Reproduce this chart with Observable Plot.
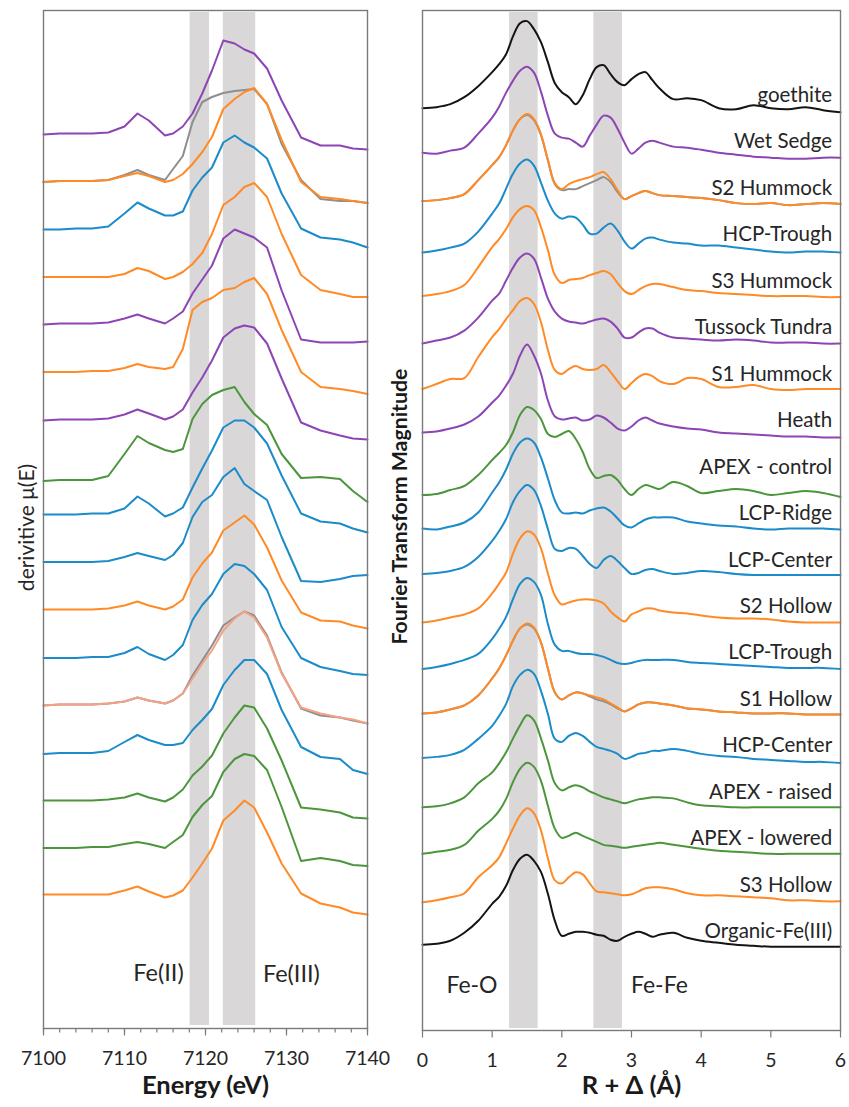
<!DOCTYPE html>
<html>
<head>
<meta charset="utf-8">
<script src="https://cdn.jsdelivr.net/npm/d3@7"></script>
<script src="https://cdn.jsdelivr.net/npm/@observablehq/plot@0.6"></script>
<style>
  body { margin: 0; background: #fff; }
  #wrap { display: flex; width: 849px; height: 1107px; background: #fff; }
  #wrap svg { overflow: visible; display: block; }
  #wrap svg.left-panel { position: relative; z-index: 2; }
</style>
</head>
<body>
<div id="wrap"></div>
<script>
// ---------- Left panel: XANES first derivative (a.u.) ----------
const energyEV = [7100, 7102, 7104, 7106, 7108, 7110, 7111.6, 7113, 7115, 7116, 7117.2, 7118.4, 7119.6, 7120.8, 7122.2, 7123.6, 7124.8, 7126, 7127.6, 7129.4, 7131.8, 7134.2, 7136.6, 7138.2, 7140];

const xanesWetSedge      = [0, 1, 1, 1, 2, 8, 21, 14, -1, 1, 8, 21, 41, 64, 94, 91, 85, 81, 66, 34, -3, -11, -11, -14, -15];
const xanesS2Hummock     = [0, 1, 1, 1, 2, 6, 9, 6, 0, 2, 8, 18, 30, 45, 73, 83, 90, 94, 78, 42, 0, -15, -17, -19, -21];
const xanesS2HummockFit  = [0, 1, 1, 1, 2, 7, 12, 7, 2, 13, 26, 60, 80, 85, 89, 91, 92, 93, 78, 38, 2, -17, -19, -19, -21];
const xanesHCPTrough     = [0, 0, 1, 1, 3, 16, 27, 21, 14, 14, 18, 39, 52, 62, 87, 94, 87, 82, 71, 36, 1, -8, -10, -13, -18];
const xanesS3Hummock     = [0, 0, 0, 0, 0, 3, 9, 6, -2, 0, 5, 13, 24, 43, 72, 80, 90, 94, 80, 43, 2, -13, -17, -20, -20];
const xanesTussock       = [0, 1, 1, 1, 2, 6, 10, 6, 1, 6, 13, 31, 45, 59, 86, 95, 91, 87, 77, 34, -15, -18, -18, -18, -17];
const xanesS1Hummock     = [0, 0, 0, 1, 1, 4, 8, 5, 3, 5, 23, 62, 70, 74, 82, 84, 90, 94, 78, 42, 0, -15, -17, -19, -22];
const xanesHeath         = [-1, 0, 0, 0, 1, 5, 10, 6, 0, 3, 10, 27, 42, 59, 82, 91, 94, 92, 76, 41, -3, -11, -16, -19, -20];
const xanesApexControl   = [-14, -13, -13, -13, -9, 13, 31, 24, 17, 15, 18, 48, 63, 72, 77, 80, 65, 53, 42, 13, -11, -10, -12, -24, -35];
const xanesLCPRidge      = [0, 0, 0, 1, 1, 6, 18, 11, -2, 1, 7, 27, 46, 64, 87, 94, 94, 87, 71, 39, 1, -7, -9, -14, -18];
const xanesLCPCenter     = [0, 0, 0, 0, 1, 5, 9, 6, 2, 7, 19, 45, 60, 67, 85, 94, 78, 71, 62, 25, -19, -20, -17, -14, -13];
const xanesS2Hollow      = [0, 0, 0, 0, 1, 4, 8, 4, 0, 3, 10, 32, 46, 57, 79, 87, 94, 85, 62, 29, -3, -11, -12, -16, -19];
const xanesLCPTrough     = [-1, -1, -1, 0, 0, 4, 10, 3, -3, 2, 12, 37, 52, 63, 83, 93, 91, 83, 67, 30, -1, -10, -14, -17, -18];
const xanesS1Hollow      = [-1, 0, 0, 0, 1, 3, 7, 4, 1, 4, 11, 26, 41, 54, 74, 86, 93, 87, 67, 31, -3, -9, -13, -15, -19];
const xanesS1HollowFit   = [-1, 0, 0, 0, 1, 3, 7, 4, 1, 4, 11, 29, 44, 59, 79, 87, 93, 89, 69, 32, -4, -11, -13, -16, -19];
const xanesHCPCenter     = [-2, -1, -1, -1, 1, 10, 17, 12, 7, 7, 9, 22, 32, 43, 67, 82, 92, 92, 78, 42, 5, -5, -7, -18, -22];
const xanesApexRaised    = [-1, -1, -1, -1, 0, 2, 6, 2, -2, 2, 10, 24, 33, 44, 66, 82, 94, 92, 71, 39, -8, -10, -13, -18, -19];
const xanesApexLowered   = [-1, -1, -1, 0, 0, 3, 5, 3, -1, 5, 12, 30, 42, 51, 75, 88, 93, 91, 77, 40, -14, -11, -14, -18, -19];
const xanesS3Hollow      = [0, 0, 0, 0, 0, 4, 8, 3, -3, -1, 4, 17, 31, 46, 74, 84, 94, 87, 62, 31, 1, -9, -13, -18, -20];

const xanesBands = [{lo: 7118.1, hi: 7120.5}, {lo: 7122.2, hi: 7126.2}];
const energyTicks = [7100, 7110, 7120, 7130, 7140];
const energyMinorStep = 2;
const xanesNotes = [{label: "Fe(II)", E: 7114.2, y: 55}, {label: "Fe(III)", E: 7130.6, y: 54}];

// ---------- Right panel: Fourier transform magnitude ----------
const rAngstrom = [0, 0.2, 0.4, 0.6, 0.8, 1.0, 1.1, 1.2, 1.3, 1.4, 1.5, 1.6, 1.7, 1.8, 1.9, 2.0, 2.1, 2.2, 2.3, 2.4, 2.5, 2.6, 2.7, 2.8, 2.9, 3.0, 3.1, 3.2, 3.3, 3.4, 3.6, 3.8, 4.0, 4.25, 4.5, 4.75, 5.0, 5.25, 5.5, 5.75, 6.0];

const ftGoethite     = [0, 1, 4, 11, 22, 36, 44, 54, 72, 85, 87, 79, 66, 46, 25, 16, 11, 4, 13, 29, 41, 43, 34, 26, 23, 29, 34, 36, 28, 20, 9, 10, 8, 0, -1, 3, 0, -1, 1, -2, -4];
const ftWetSedge     = [2, 1, 4, 7, 21, 37, 48, 62, 74, 84, 88, 82, 63, 39, 21, 17, 16, 12, 8, 19, 30, 39, 37, 26, 12, 1, 6, 12, 14, 12, 8, 7, 5, 2, 0, -2, -3, -4, -4, -3, -3];
const ftS2Hummock    = [0, 1, 3, 7, 21, 36, 44, 56, 71, 82, 87, 82, 67, 41, 18, 12, 17, 20, 22, 24, 27, 29, 22, 11, 2, 5, 8, 10, 8, 6, 5, 4, 3, 1, -2, -3, -2, -4, -3, -2, -3];
const ftS2HummockFit = [0, 1, 3, 7, 21, 36, 44, 56, 71, 82, 86, 81, 66, 41, 17, 11, 12, 12, 15, 18, 21, 24, 19, 9, 2, 5, 8, 10, 8, 6, 5, 4, 3, 1, -2, -3, -2, -4, -3, -2, -3];
const ftHCPTrough    = [-5, -3, 0, 4, 16, 34, 44, 59, 74, 84, 88, 82, 65, 47, 34, 29, 31, 30, 23, 14, 14, 20, 24, 17, 6, -1, 4, 9, 10, 8, 5, 4, 2, 2, 0, -2, -4, -5, -4, -4, -5];
const ftS3Hummock    = [-2, 0, 3, 9, 27, 47, 55, 65, 77, 85, 88, 84, 67, 44, 19, 11, 14, 15, 16, 19, 21, 23, 20, 11, 3, 0, 4, 8, 10, 10, 7, 4, 3, 1, 0, -1, -2, -2, -2, -3, -3];
const ftTussock      = [-3, 0, 3, 10, 23, 40, 47, 60, 73, 83, 87, 82, 63, 42, 29, 22, 19, 18, 17, 19, 21, 22, 19, 12, 3, 3, 8, 12, 12, 8, 3, 2, 1, 0, 1, 0, -2, -2, -2, -3, -3];
const ftS1Hummock    = [-2, 3, 8, 9, 30, 50, 58, 68, 77, 86, 89, 83, 65, 37, 17, 13, 18, 21, 18, 17, 18, 22, 15, 6, -2, 4, 10, 13, 11, 6, 3, 9, 8, 0, 0, 2, -2, -3, -2, -2, -2];
const ftHeath        = [1, 2, 5, 9, 17, 31, 38, 48, 60, 78, 89, 78, 60, 33, 17, 14, 15, 16, 13, 14, 18, 16, 11, 5, 3, 7, 13, 16, 13, 10, 7, 5, 4, 1, 0, -1, -2, -3, -3, -4, -4];
const ftApexControl  = [-15, -14, -10, -6, 5, 20, 27, 35, 48, 65, 73, 70, 61, 46, 43, 46, 49, 41, 28, 11, 2, 4, 5, 0, -9, -15, -9, -5, -7, -9, -2, -6, -13, -11, -9, -11, -15, -13, -11, -13, -17];
const ftLCPRidge     = [-2, -3, 0, 4, 14, 34, 44, 57, 73, 84, 88, 84, 69, 48, 26, 14, 13, 14, 13, 16, 18, 19, 15, 8, 1, -1, 3, 7, 9, 9, 9, 5, 3, 1, 0, -2, -3, -2, -2, -2, -3];
const ftLCPCenter    = [-1, 0, 2, 6, 16, 32, 42, 54, 71, 82, 88, 83, 67, 44, 24, 22, 25, 24, 17, 9, 5, 13, 17, 12, 5, -1, 0, 3, 4, 2, -1, 0, 2, 1, -1, -2, -2, -2, -2, -2, -2];
const ftS2Hollow     = [-3, -1, 2, 5, 11, 26, 36, 47, 66, 81, 88, 85, 71, 46, 24, 15, 17, 19, 20, 20, 19, 16, 8, 2, -2, 5, 8, 11, 11, 9, 7, 6, 4, 2, 1, 1, 0, -2, -3, -3, -3];
const ftLCPTrough    = [-3, -1, 2, 6, 12, 27, 37, 49, 67, 82, 88, 84, 71, 42, 21, 15, 15, 13, 12, 12, 11, 9, 6, 3, 2, 3, 5, 6, 6, 6, 6, 4, 3, 2, 1, 0, -1, -2, -2, -2, -3];
const ftS1Hollow     = [-1, 0, 3, 7, 17, 34, 44, 57, 72, 84, 89, 85, 70, 44, 20, 13, 17, 20, 19, 17, 15, 13, 9, 5, 1, 4, 8, 10, 10, 9, 7, 4, 3, 1, 0, -1, -1, -1, -2, -2, -2];
const ftS1HollowFit  = [-1, 0, 3, 7, 17, 34, 44, 57, 72, 84, 88, 84, 70, 44, 20, 13, 17, 20, 19, 16, 13, 11, 8, 4, 1, 4, 8, 10, 10, 9, 7, 4, 3, 1, 0, -1, -1, -1, -2, -2, -2];
const ftHCPCenter    = [1, 2, 4, 9, 20, 33, 43, 55, 73, 84, 89, 85, 68, 45, 20, 17, 23, 26, 23, 17, 12, 10, 8, 5, 0, 2, 5, 6, 8, 8, 10, 8, 5, 3, 2, 0, -1, -2, -3, -3, -4];
const ftApexRaised   = [-2, -1, 2, 8, 22, 33, 42, 53, 67, 80, 90, 85, 67, 45, 22, 15, 18, 20, 18, 14, 11, 8, 6, 4, 2, 4, 6, 7, 8, 8, 7, 3, 0, -1, -2, -2, -2, -2, -2, -2, -2];
const ftApexLowered  = [-2, 0, 2, 7, 21, 33, 41, 53, 70, 83, 89, 85, 71, 46, 23, 14, 16, 19, 16, 13, 10, 7, 6, 5, 4, 5, 6, 7, 8, 9, 7, 5, 3, 1, 0, -1, -2, -2, -2, -2, -2];
const ftS3Hollow     = [-4, -2, 1, 5, 21, 33, 41, 55, 70, 83, 90, 85, 68, 40, 18, 15, 21, 26, 24, 15, 7, 6, 5, 4, 3, 4, 7, 10, 11, 11, 9, 5, 3, 3, 2, 1, 0, -2, -2, -3, -3];
const ftOrganicFe    = [0, 1, 4, 12, 24, 41, 48, 59, 75, 86, 90, 84, 73, 51, 24, 9, 11, 13, 13, 12, 10, 9, 5, 4, 8, 11, 13, 11, 8, 10, 12, 7, 4, 2, 0, -1, -2, -2, -2, -2, -2];

const ftBands = [{lo: 1.25, hi: 1.66}, {lo: 2.46, hi: 2.87}];
const rTicks = [0, 1, 2, 3, 4, 5, 6];
const ftNotes = [{label: "Fe-O", R: 0.71, y: 45}, {label: "Fe-Fe", R: 3.4, y: 45}];

// ---------- styling ----------
const PURPLE = "#8d45b6", ORANGE = "#ff8a26", BLUE = "#1b8bc9", GREEN = "#4b963c",
      BLACK = "#141414", FITGRAY = "#8e8e8e", SALMON = "#f4a185", BAND = "#d9d7d7",
      FRAME = "#7a7a7a", INK = "#262626";
const FONT = "Lato, 'Open Sans', sans-serif";

const xanesSeries = [
  {name: "Wet Sedge", values: xanesWetSedge, color: PURPLE},
  {name: "S2 Hummock", values: xanesS2Hummock, color: ORANGE, fit: xanesS2HummockFit},
  {name: "HCP-Trough", values: xanesHCPTrough, color: BLUE},
  {name: "S3 Hummock", values: xanesS3Hummock, color: ORANGE},
  {name: "Tussock Tundra", values: xanesTussock, color: PURPLE},
  {name: "S1 Hummock", values: xanesS1Hummock, color: ORANGE},
  {name: "Heath", values: xanesHeath, color: PURPLE},
  {name: "APEX - control", values: xanesApexControl, color: GREEN},
  {name: "LCP-Ridge", values: xanesLCPRidge, color: BLUE},
  {name: "LCP-Center", values: xanesLCPCenter, color: BLUE},
  {name: "S2 Hollow", values: xanesS2Hollow, color: ORANGE},
  {name: "LCP-Trough", values: xanesLCPTrough, color: BLUE},
  {name: "S1 Hollow", values: xanesS1Hollow, color: SALMON, fit: xanesS1HollowFit},
  {name: "HCP-Center", values: xanesHCPCenter, color: BLUE},
  {name: "APEX - raised", values: xanesApexRaised, color: GREEN},
  {name: "APEX - lowered", values: xanesApexLowered, color: GREEN},
  {name: "S3 Hollow", values: xanesS3Hollow, color: ORANGE}
];

const ftSeries = [
  {name: "goethite", values: ftGoethite, color: BLACK},
  {name: "Wet Sedge", values: ftWetSedge, color: PURPLE},
  {name: "S2 Hummock", values: ftS2Hummock, color: ORANGE, fit: ftS2HummockFit},
  {name: "HCP-Trough", values: ftHCPTrough, color: BLUE},
  {name: "S3 Hummock", values: ftS3Hummock, color: ORANGE},
  {name: "Tussock Tundra", values: ftTussock, color: PURPLE},
  {name: "S1 Hummock", values: ftS1Hummock, color: ORANGE},
  {name: "Heath", values: ftHeath, color: PURPLE},
  {name: "APEX - control", values: ftApexControl, color: GREEN},
  {name: "LCP-Ridge", values: ftLCPRidge, color: BLUE},
  {name: "LCP-Center", values: ftLCPCenter, color: BLUE},
  {name: "S2 Hollow", values: ftS2Hollow, color: ORANGE},
  {name: "LCP-Trough", values: ftLCPTrough, color: BLUE},
  {name: "S1 Hollow", values: ftS1Hollow, color: ORANGE, fit: ftS1HollowFit},
  {name: "HCP-Center", values: ftHCPCenter, color: BLUE},
  {name: "APEX - raised", values: ftApexRaised, color: GREEN},
  {name: "APEX - lowered", values: ftApexLowered, color: GREEN},
  {name: "S3 Hollow", values: ftS3Hollow, color: ORANGE},
  {name: "Organic-Fe(III)", values: ftOrganicFe, color: BLACK}
];

// vertical stacking of the spectra (offset per spectrum, a.u.)
const xanesStep = 47.5, xanesBase = 134;
const ftStep = 46.48, ftBase = 85.7;
const xanesOffset = i => xanesBase + (xanesSeries.length - 1 - i) * xanesStep;
const ftOffset = j => ftBase + (ftSeries.length - 1 - j) * ftStep;

const toRows = (xs, values, off) => values.map((v, k) => ({x: xs[k], y: off + v}));

// ---------- left chart ----------
const leftMarks = [
  Plot.barX(xanesBands, {x1: "lo", x2: "hi", fill: BAND, insetTop: 2, insetBottom: 3})
];
xanesSeries.forEach((s, i) => {
  if (s.fit) leftMarks.push(Plot.line(toRows(energyEV, s.fit, xanesOffset(i)), {x: "x", y: "y", stroke: FITGRAY, strokeWidth: 2}));
});
xanesSeries.forEach((s, i) => {
  leftMarks.push(Plot.line(toRows(energyEV, s.values, xanesOffset(i)), {x: "x", y: "y", stroke: s.color, strokeWidth: 2}));
});
leftMarks.push(
  Plot.frame({stroke: FRAME, strokeWidth: 1.4}),
  Plot.axisX({ticks: d3.range(energyTicks[0], energyTicks[energyTicks.length - 1] + 1, energyMinorStep), tickSize: 4.5, text: null, label: null, stroke: FRAME, strokeWidth: 1.2}),
  Plot.axisX({ticks: energyTicks, tickSize: 7.5, tickPadding: 15, tickFormat: d => String(d), fontSize: 19.5, label: null, stroke: FRAME, strokeWidth: 1.2, fill: INK}),
  Plot.text(xanesNotes, {x: "E", y: "y", text: "label", fontSize: 23.5, fill: INK}),
  Plot.text(["Energy (eV)"], {frameAnchor: "bottom", text: d => d, dy: 65, fontSize: 25.5, fontWeight: "bold", fill: "#1a1a1a"}),
  Plot.text(["derivitive μ(E)"], {frameAnchor: "left", textAnchor: "middle", text: d => d, rotate: -90, dx: -16, dy: 8, fontSize: 21, fill: INK})
);

const left = Plot.plot({
  width: 388, height: 1107,
  marginLeft: 43, marginRight: 21, marginTop: 10, marginBottom: 79,
  style: {fontFamily: FONT, background: "transparent", color: INK},
  x: {domain: [7100, 7140]},
  y: {domain: [0, 1018], axis: null},
  marks: leftMarks
});
left.classList.add("left-panel");

// ---------- right chart ----------
const rightMarks = [
  Plot.barX(ftBands, {x1: "lo", x2: "hi", fill: BAND, insetTop: 2, insetBottom: 2})
];
ftSeries.forEach((s, j) => {
  if (s.fit) rightMarks.push(Plot.line(toRows(rAngstrom, s.fit, ftOffset(j)), {x: "x", y: "y", stroke: FITGRAY, strokeWidth: 2, curve: "catmull-rom"}));
});
ftSeries.forEach((s, j) => {
  rightMarks.push(Plot.line(toRows(rAngstrom, s.values, ftOffset(j)), {x: "x", y: "y", stroke: s.color, strokeWidth: 2, curve: "catmull-rom"}));
});
const ftLabels = ftSeries.map((s, j) => ({name: s.name, y: ftOffset(j) + 13}));
rightMarks.push(
  Plot.text(ftLabels, {x: 5.88, y: "y", text: "name", textAnchor: "end", fontSize: 20.5, fill: INK}),
  Plot.frame({stroke: FRAME, strokeWidth: 1.4}),
  Plot.axisX({ticks: rTicks, tickSize: 7.5, tickPadding: 15, tickFormat: d => String(d), fontSize: 19.5, label: null, stroke: FRAME, strokeWidth: 1.2, fill: INK}),
  Plot.text(ftNotes, {x: "R", y: "y", text: "label", fontSize: 23, fill: INK}),
  Plot.text(["R + Δ (Å)"], {frameAnchor: "bottom", text: d => d, dy: 63, fontSize: 25.5, fontWeight: "bold", fill: "#1a1a1a"}),
  Plot.text(["Fourier Transform Magnitude"], {frameAnchor: "left", textAnchor: "middle", text: d => d, rotate: -90, dx: -22, dy: -14, fontSize: 21.3, fontWeight: "bold", fill: "#1a1a1a"})
);

const right = Plot.plot({
  width: 461, height: 1107,
  marginLeft: 34, marginRight: 9, marginTop: 10, marginBottom: 77,
  style: {fontFamily: FONT, background: "transparent", color: INK},
  x: {domain: [0, 6]},
  y: {domain: [0, 1020], axis: null},
  marks: rightMarks
});

const wrap = document.getElementById("wrap");
wrap.appendChild(left);
wrap.appendChild(right);
</script>
</body>
</html>
